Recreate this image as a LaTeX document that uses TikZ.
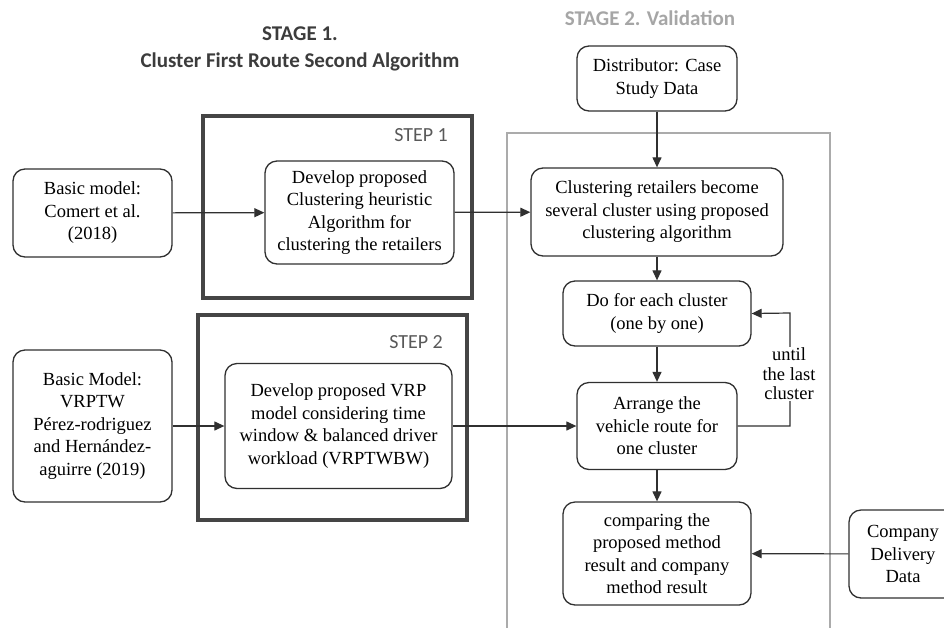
\documentclass[tikz,border=0pt]{standalone}
\usepackage{fontspec}
\setmainfont{Liberation Serif}
\newfontfamily\boxfont{Liberation Serif}
\newfontfamily\calib{Carlito}
\usetikzlibrary{arrows.meta}
\definecolor{boxline}{HTML}{303030}
\definecolor{steptxt}{HTML}{595959}
\definecolor{stage1}{HTML}{3C3C3C}
\definecolor{stage2}{HTML}{A6A6A6}
\definecolor{grayframe}{HTML}{ABABAB}
\tikzset{
  procbox/.style={draw=boxline, line width=1.3pt, rounded corners=12pt, align=center,
    inner sep=0pt, font=\boxfont\fontsize{18.5}{22.5}\selectfont, text=black},
  stepframe/.style={draw=boxline!90, line width=4pt},
  grayline/.style={draw=grayframe, line width=2.5pt},
  flow/.style={line width=1.2pt, draw=boxline, -{Triangle[length=10pt,width=9pt]}},
  plainline/.style={line width=1.2pt, draw=boxline},
  titlefont/.style={font=\calib\bfseries\fontsize{21}{25}\selectfont},
  steplabel/.style={font=\calib\fontsize{20}{24}\selectfont, text=steptxt, inner sep=0pt}
}
\begin{document}
\begin{tikzpicture}[x=1pt, y=-1pt]
\useasboundingbox (0,0) rectangle (944,627);
% titles
\node[titlefont, text=stage1, anchor=base, inner sep=0pt] (t1) at (300,40) {STAGE 1.};
\node[titlefont, text=stage1, anchor=base, inner sep=0pt] (t2) at (300,67) {Cluster First Route Second Algorithm};
\node[titlefont, text=stage2, anchor=base, inner sep=0pt] (t3) at (650,25) {STAGE 2. Validation};
% frames
\draw[grayline] (507,650) -- (507,133) -- (830,133) -- (830,650);
\draw[stepframe] (203,116) rectangle (472,298);
\draw[stepframe] (198,315) rectangle (467,520);
\node[steplabel, anchor=base east] (s1) at (448,141) {STEP 1};
\node[steplabel, anchor=base east] (s2) at (443,348) {STEP 2};
% boxes
\node[procbox, minimum width=160pt, minimum height=65pt] (dist) at (657,78.5) {Distributor: Case\\Study Data};
\node[procbox, minimum width=159pt, minimum height=88pt] (b1) at (92.5,213) {Basic model:\\Comert et al.\\(2018)};
\node[procbox, minimum width=189pt, minimum height=103pt] (dev1) at (359.5,212.5) {Develop proposed\\Clustering heuristic\\Algorithm for\\clustering the retailers};
\node[procbox, minimum width=252pt, minimum height=88pt] (clus) at (657,212) {Clustering retailers become\\several cluster using proposed\\clustering algorithm};
\node[procbox, minimum width=188pt, minimum height=65pt] (doeach) at (657,313.5) {Do for each cluster\\(one by one)};
\node[procbox, minimum width=159pt, minimum height=152pt] (b2) at (92.5,426) {Basic Model:\\VRPTW\\Pérez-rodriguez\\and Hernández-\\aguirre (2019)};
\node[procbox, minimum width=227pt, minimum height=125pt] (vrp) at (338.5,426) {Develop proposed VRP\\model considering time\\window \& balanced driver\\workload (VRPTWBW)};
\node[procbox, minimum width=160pt, minimum height=87pt] (arr) at (657,426) {Arrange the\\vehicle route for\\one cluster};
\node[procbox, minimum width=188pt, minimum height=103pt] (comp) at (657,553.5) {comparing the\\proposed method\\result and company\\method result};
\node[procbox, minimum width=108pt, minimum height=88pt] (cdd) at (903,554) {Company\\Delivery\\Data};
% connectors
\draw[flow] (b1) -- (dev1);
\draw[flow] (dev1) -- (clus);
\draw[flow] (b2) -- (vrp);
\draw[flow] (vrp) -- (arr);
\draw[flow] (dist) -- (clus);
\draw[flow] (clus) -- (doeach);
\draw[flow] (doeach) -- (arr);
\draw[flow] (arr) -- (comp);
\draw[flow] (cdd) -- (comp);
\coordinate (lpb) at (790,426);
\coordinate (lpt) at (790,313);
\draw[flow] (arr.east) -- (lpb) -- (lpt) -- (doeach.east);
\node[fill=white, align=center, inner sep=1pt, font=\boxfont\fontsize{18.5}{19.5}\selectfont] (until) at (789,374) {until\\the last\\cluster};
\end{tikzpicture}
\end{document}
